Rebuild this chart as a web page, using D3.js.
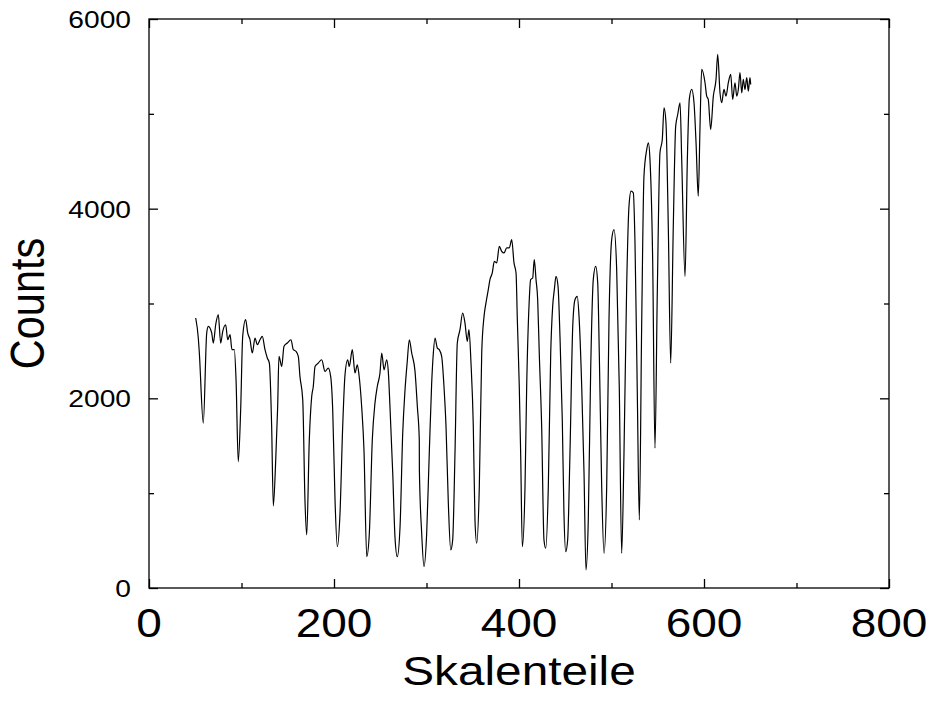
<!DOCTYPE html>
<html>
<head>
<meta charset="utf-8">
<script src="https://cdn.jsdelivr.net/npm/d3@7"></script>
<style>
  body { margin: 0; background: #fff; }
  text { font-family: "Liberation Sans", Arial, sans-serif; fill: #000; }
</style>
</head>
<body>
<svg id="chart" width="929" height="702"></svg>
<script>
// Spectrum: channel (Skalenteile) and counts
const channel = [50.5,53.3,54.4,58.7,62.4,64.1,67.8,69.5,72.1,74.9,77.5,79.7,82.9,85.1,87.6,89.7,92.2,94.1,96.5,99.1,101.3,104.5,106.7,109.2,111.7,114.6,117.1,120,122.5,125.4,127.9,130.1,132.6,134.4,137,139.1,140.5,143.5,145.9,149.5,153.5,156,158.9,161.4,163.2,166.2,168.6,170.5,173.3,175.9,177.6,179.5,183,186.7,190.3,193.8,196.4,198.6,201.1,203.6,206.5,209.4,211.9,214.8,216.5,219.8,222.7,225.2,227,229.9,232.4,235.4,238.2,241.4,244.3,246.8,249.7,251.6,254.1,257,258.7,260.5,263.5,265.9,268.4,271.4,274.3,276.8,279.2,281.4,284,287.6,290.1,292.2,292.3,294.8,297.3,300.2,303,305.6,307.4,309.2,311.7,313.8,316.4,318.9,321.1,323.6,326.2,328.3,330.8,333.3,336.2,339.1,341.6,344.1,345.9,348.1,350.6,352.4,354.3,357.1,359.7,362.2,364.3,366.8,368.6,371.1,373.3,375.9,378.7,381.3,383.8,386.7,389.5,392.1,394.6,396.8,398.2,400.3,401.8,403.6,406.5,408.3,410.8,412.6,414.8,416.5,418.4,420.2,421.9,424.5,427,428.9,431.7,434.3,436.4,438.2,440,442.2,444.3,446.8,448.6,450.5,452.6,455.1,458.1,460.5,463,464.9,467.8,470.3,472.4,474.9,477.5,480.3,482.9,485.1,486.8,489.4,491.9,494.8,497.3,500.2,502.7,505.6,508.4,511,513.5,516.4,518.9,521.1,523.6,525.4,527.9,530.1,532.6,535.1,538.1,539.8,541.6,544.5,547,549.5,552.4,554.9,556.8,558.9,561.4,564,566.8,569.4,571.6,574.1,575.9,579.5,582,584.1,586.7,589.2,591.4,593.8,595.7,597.5,601.1,602.9,604.6,607.2,610.1,613,614.8,617.3,619.1,621.6,623.8,626.3,628.9,631,633.5,635.4,637.1,638.9,640.8,642.5,644.3,646.2,647.9,649.7,650.5];
const counts = [2847,2636,2481,1739,2689,2759,2689,2583,2776,2882,2583,2706,2776,2618,2671,2513,2513,2196,1333,1879,2653,2829,2689,2618,2478,2636,2565,2618,2653,2513,2425,2372,1703,866,1351,1914,2442,2336,2547,2583,2618,2513,2495,2442,2231,1985,929,560,1562,2020,2125,2336,2372,2407,2284,2319,2231,1879,929,436,789,1703,2249,2407,2336,2513,2267,2354,2249,1914,1457,330,577,1562,1950,2125,2267,2478,2301,2407,2284,1914,1211,542,330,647,1633,2090,2389,2618,2478,2284,1914,1562,1246,577,225,577,1422,2161,2478,2636,2530,2513,2442,2125,1703,894,401,507,1422,2583,2724,2900,2794,2600,2724,2372,1703,718,472,1069,2478,2864,3006,3146,3252,3322,3445,3428,3603,3550,3533,3586,3586,3674,3428,3322,2829,2125,1422,436,1069,2125,2970,3252,3269,3463,3252,3040,2478,1703,507,419,1069,2478,2970,3146,3286,3181,2653,1774,789,383,507,1422,2759,3040,3075,2864,2125,1211,190,718,2301,3252,3392,3217,2478,1069,366,1069,2829,3674,3779,3357,2125,366,1422,3181,4025,4184,4167,3639,2055,718,2759,4342,4624,4695,4518,3463,1475,3111,4589,4730,5064,4906,3814,2372,3814,4870,4993,5117,4518,3286,4518,5152,5257,5117,4695,4131,4870,5469,5328,5187,5152,4835,5187,5363,5627,5222,5117,5257,5187,5328,5416,5152,5328,5187,5257,5434,5222,5363,5257,5381,5240,5381,5310];

const xMajor = [0, 200, 400, 600, 800];
const xMinor = [100, 300, 500, 700];
const yMajor = [0, 2000, 4000, 6000];
const yMinor = [1000, 3000, 5000];

const width = 929, height = 702;
const margin = { top: 19, right: 40, bottom: 114, left: 149 };
const w = width - margin.left - margin.right;
const h = height - margin.top - margin.bottom;
const stretch = 1.15; // text in the original is slightly wide

const svg = d3.select('#chart');
const g = svg.append('g').attr('transform', `translate(${margin.left},${margin.top})`);

const x = d3.scaleLinear().domain([0, 800]).range([0, w]);
const y = d3.scaleLinear().domain([0, 6000]).range([h, 0]);

// inward ticks on all four sides
function tickSet(axis, values, size, transform) {
  g.append('g')
    .attr('transform', transform)
    .call(axis.tickValues(values).tickSize(-size).tickFormat(''))
    .call(a => a.select('.domain').remove())
    .selectAll('line').attr('stroke', '#000').attr('stroke-width', 1.3);
}
tickSet(d3.axisBottom(x), xMajor, 9, `translate(0,${h})`);
tickSet(d3.axisBottom(x), xMinor, 5, `translate(0,${h})`);
tickSet(d3.axisTop(x), xMajor, 9, 'translate(0,0)');
tickSet(d3.axisTop(x), xMinor, 5, 'translate(0,0)');
tickSet(d3.axisLeft(y), yMajor, 9, 'translate(0,0)');
tickSet(d3.axisLeft(y), yMinor, 5, 'translate(0,0)');
tickSet(d3.axisRight(y), yMajor, 9, `translate(${w},0)`);
tickSet(d3.axisRight(y), yMinor, 5, `translate(${w},0)`);

// frame
g.append('rect')
  .attr('width', w).attr('height', h)
  .attr('fill', 'none').attr('stroke', '#000').attr('stroke-width', 1.3);

// tick labels
g.selectAll('.xlab')
  .data(xMajor)
  .enter().append('text')
  .attr('class', 'xlab')
  .attr('transform', d => `translate(${x(d)},${h + 49}) scale(${stretch},1)`)
  .attr('text-anchor', 'middle')
  .style('font-size', '40px')
  .text(d => d);

g.selectAll('.ylab')
  .data(yMajor)
  .enter().append('text')
  .attr('class', 'ylab')
  .attr('transform', d => `translate(-18,${y(d) + 9}) scale(${stretch},1)`)
  .attr('text-anchor', 'end')
  .style('font-size', '24.5px')
  .text(d => d);

// axis titles
svg.append('text')
  .attr('transform', `translate(${margin.left + w / 2},685) scale(${stretch},1)`)
  .attr('text-anchor', 'middle')
  .style('font-size', '41.5px')
  .text('Skalenteile');

svg.append('text')
  .attr('transform', `translate(44,${margin.top + h / 2}) scale(${stretch},1) rotate(-90)`)
  .attr('text-anchor', 'middle')
  .style('font-size', '41.5px')
  .text('Counts');

// spectrum line
const pts = channel.map((c, i) => [c, counts[i]]);
const line = d3.line()
  .x(d => x(d[0]))
  .y(d => y(d[1]))
  .curve(d3.curveMonotoneX);

g.append('path')
  .datum(pts)
  .attr('fill', 'none')
  .attr('stroke', '#000')
  .attr('stroke-width', 1.2)
  .attr('stroke-linejoin', 'round')
  .attr('d', line);
</script>
</body>
</html>
